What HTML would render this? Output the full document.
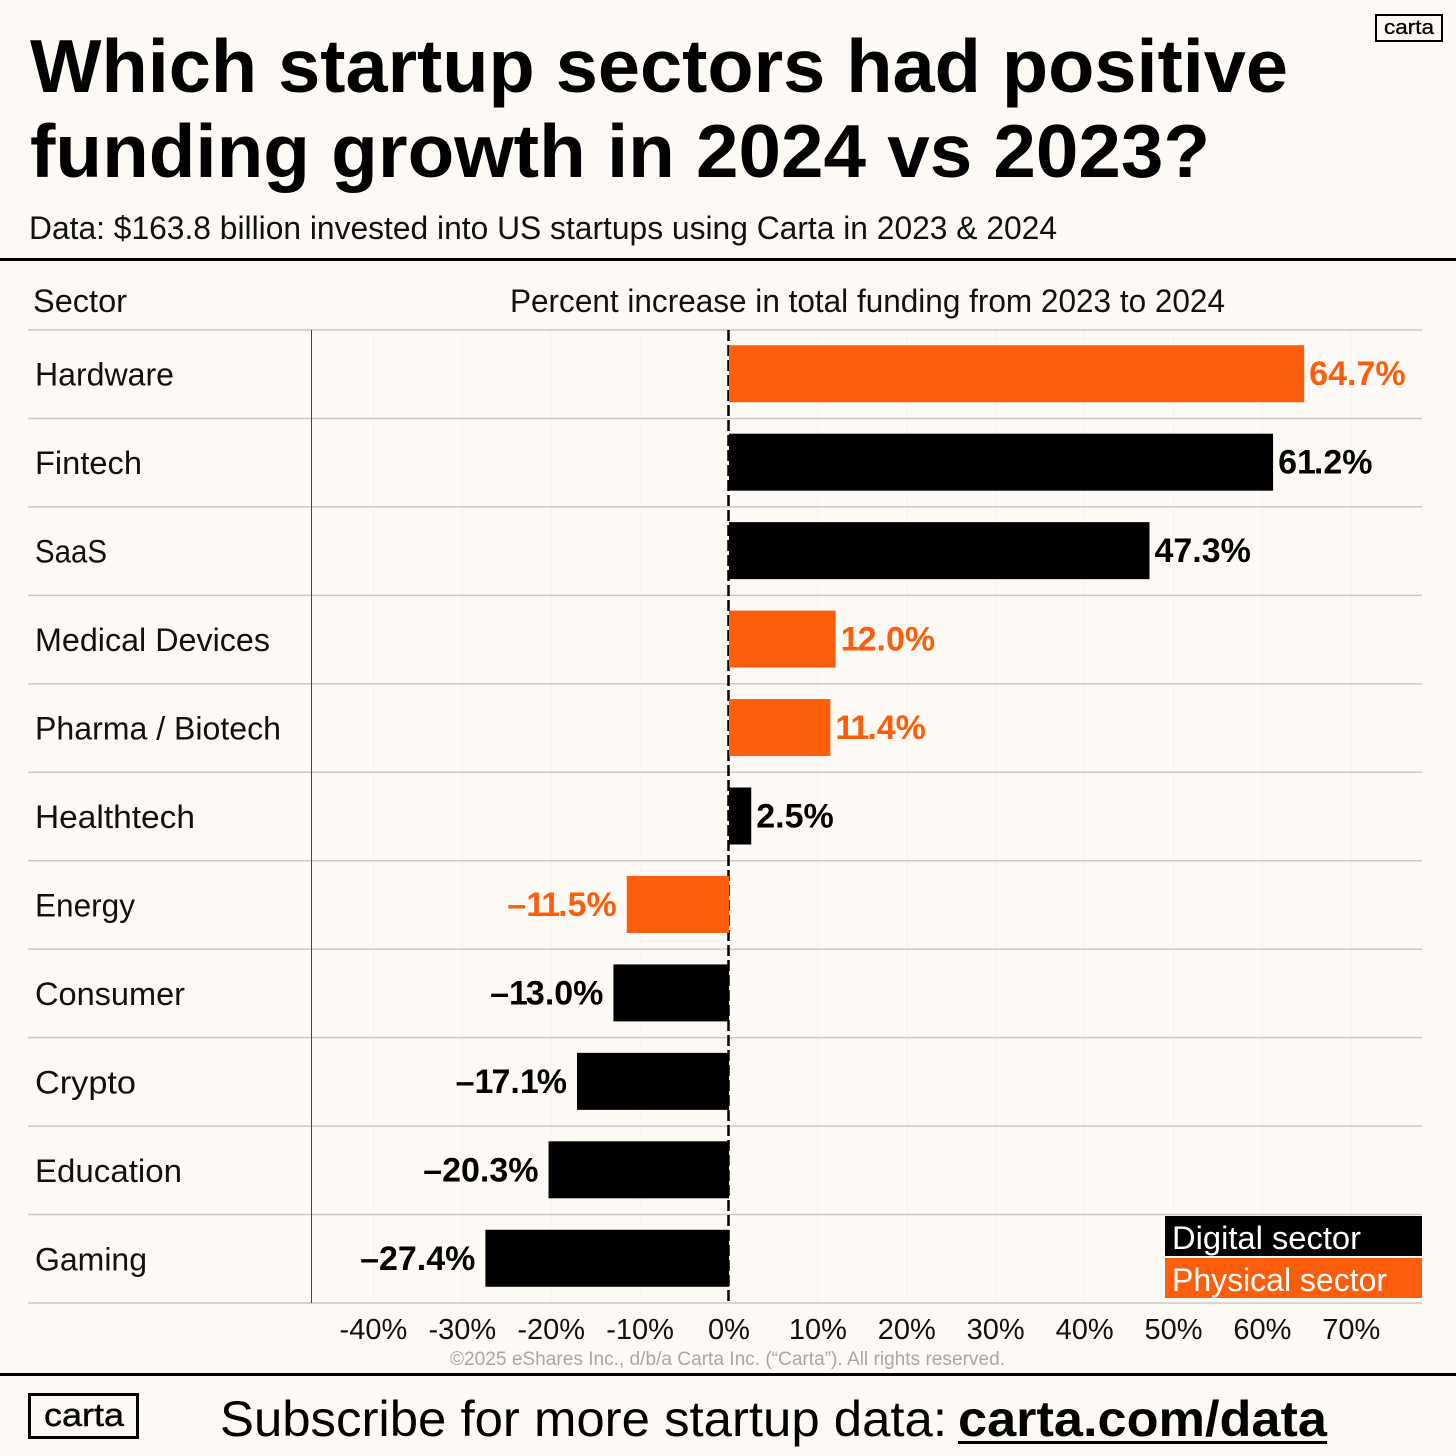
<!DOCTYPE html>
<html lang="en">
<head>
<meta charset="utf-8">
<title>Which startup sectors had positive funding growth in 2024 vs 2023?</title>
<style>
html,body{margin:0;padding:0;background:#fdfaf5;}
body{width:1456px;height:1456px;overflow:hidden;}
svg{display:block;font-family:"Liberation Sans",sans-serif;}
</style>
</head>
<body>
<svg id="chart" xmlns="http://www.w3.org/2000/svg" width="1456" height="1456" viewBox="0 0 1456 1456">
  <rect x="0" y="0" width="1456" height="1456" fill="#fdfaf5"/>
  <text x="30" y="92" font-size="75" font-weight="700" fill="#000" textLength="1258" lengthAdjust="spacingAndGlyphs">Which startup sectors had positive</text>
  <text x="30" y="177" font-size="75" font-weight="700" fill="#000" textLength="1180" lengthAdjust="spacingAndGlyphs">funding growth in 2024 vs 2023?</text>
  <text x="29" y="239" font-size="32" fill="#111" textLength="1028" lengthAdjust="spacingAndGlyphs">Data: $163.8 billion invested into US startups using Carta in 2023 &amp; 2024</text>
  <rect x="1376" y="15" width="66" height="26" fill="none" stroke="#000" stroke-width="2"/>
  <text x="1384" y="34" font-size="20" fill="#000" stroke="#000" stroke-width="0.3" textLength="50" lengthAdjust="spacingAndGlyphs">carta</text>
  <rect x="0" y="258" width="1456" height="3" fill="#000"/>
  <text x="33" y="312" font-size="32" fill="#111" textLength="94" lengthAdjust="spacingAndGlyphs">Sector</text>
  <text x="510" y="312" font-size="32" fill="#111" textLength="715" lengthAdjust="spacingAndGlyphs">Percent increase in total funding from 2023 to 2024</text>
  <g id="grid"></g>
  <g id="rows"></g>
  <line x1="311.5" y1="330" x2="311.5" y2="1303" stroke="#444" stroke-width="1"/>
  <line x1="728.5" y1="330" x2="728.5" y2="1303" stroke="#000" stroke-width="2.5" stroke-dasharray="11 4"/>
  <g id="bars"></g>
  <g id="labels"></g>
  <g id="values"></g>
  <g id="ticks"></g>
  <g>
    <rect x="1165" y="1216" width="257" height="40" fill="#000"/>
    <text x="1172" y="1249" font-size="32" fill="#fff" textLength="189" lengthAdjust="spacingAndGlyphs">Digital sector</text>
    <rect x="1165" y="1258" width="257" height="40" fill="#fc5e0b"/>
    <text x="1172" y="1291" font-size="32" fill="#fff" textLength="215" lengthAdjust="spacingAndGlyphs">Physical sector</text>
  </g>
  <text x="450" y="1365" font-size="19" fill="#a8a8a6" textLength="555" lengthAdjust="spacingAndGlyphs">©2025 eShares Inc., d/b/a Carta Inc. (“Carta”). All rights reserved.</text>
  <rect x="0" y="1373" width="1456" height="3" fill="#000"/>
  <rect x="29.5" y="1394.5" width="108" height="43" fill="none" stroke="#000" stroke-width="3"/>
  <text x="44" y="1426" font-size="32" fill="#000" stroke="#000" stroke-width="0.4" textLength="80" lengthAdjust="spacingAndGlyphs">carta</text>
  <text x="220" y="1436" font-size="50" fill="#000" textLength="727" lengthAdjust="spacingAndGlyphs">Subscribe for more startup data:</text>
  <text x="958" y="1436" font-size="50" font-weight="700" fill="#000" textLength="369" lengthAdjust="spacingAndGlyphs">carta.com/data</text>
  <rect x="958" y="1441" width="369" height="3" fill="#000"/>
</svg>
<script>
const categories = ["Hardware","Fintech","SaaS","Medical Devices","Pharma / Biotech","Healthtech","Energy","Consumer","Crypto","Education","Gaming"];
const growthValues = [64.7,61.2,47.3,12.0,11.4,2.5,-11.5,-13.0,-17.1,-20.3,-27.4];
const sectorTypes = ["physical","digital","digital","physical","physical","digital","physical","digital","digital","digital","digital"];
const tickValues = [-40,-30,-20,-10,0,10,20,30,40,50,60,70];
const tickLabels = ["-40%","-30%","-20%","-10%","0%","10%","20%","30%","40%","50%","60%","70%"];

const NS = "http://www.w3.org/2000/svg";
const colorFor = { physical: "#fc5e0b", digital: "#000000" };
// Rendered label widths, fitted to the reference's typeface.
const labelFit = { "Hardware":139, "Fintech":107, "SaaS":72, "Medical Devices":235, "Pharma / Biotech":246, "Healthtech":160, "Energy":100, "Consumer":150, "Crypto":101, "Education":147, "Gaming":112 };
const plotTop = 330, plotBottom = 1303, zeroX = 729, pxPerPct = 8.89, barH = 57;
const rowH = (plotBottom - plotTop) / categories.length;
const xScale = v => zeroX + v * pxPerPct;
const rowY = i => plotTop + rowH * i;
const rowCenter = i => rowY(i) + rowH / 2;
function make(tag, parent, attrs) {
  const el = document.createElementNS(NS, tag);
  for (const k in attrs) el.setAttribute(k, attrs[k]);
  parent.appendChild(el);
  return el;
}
function formatValue(v) {
  return (v < 0 ? "–" : "") + Math.abs(v).toFixed(1) + "%";
}
const gGrid = document.getElementById("grid");
const gRows = document.getElementById("rows");
const gBars = document.getElementById("bars");
const gLabels = document.getElementById("labels");
const gValues = document.getElementById("values");
const gTicks = document.getElementById("ticks");

tickValues.forEach((t, i) => {
  if (t !== 0) {
    const gl = make("line", gGrid, {x1: xScale(t), x2: xScale(t), y1: plotTop, y2: plotBottom, stroke: "#f8f5ef", "stroke-width": 1.5});
    
    
  }
  const tk = make("text", gTicks, {x: xScale(t), y: 1339, "font-size": 29, "text-anchor": "middle", fill: "#111"});
  tk.textContent = tickLabels[i];
  
  
});

for (let i = 0; i <= categories.length; i++) {
  const ln = make("line", gRows, {x1: 28, x2: 1422, y1: rowY(i), y2: rowY(i), stroke: "#c9c9c5", "stroke-width": 1.5});
  
  
}

categories.forEach((c, i) => {
  const v = growthValues[i];
  const col = colorFor[sectorTypes[i]];
  const x0 = xScale(Math.min(v, 0)), x1 = xScale(Math.max(v, 0));
  const bar = make("rect", gBars, {x: x0, y: rowCenter(i) - barH / 2 - 0.5, width: x1 - x0, height: barH, fill: col});
  
  

  const lab = make("text", gLabels, {x: 35, y: rowCenter(i) + 11.5, "font-size": 32, fill: "#111", textLength: labelFit[c], lengthAdjust: "spacingAndGlyphs"});
  lab.textContent = c;
  
  

  const val = make("text", gValues, {
    x: v >= 0 ? x1 + 5 : x0 - 10,
    y: rowCenter(i) + 11,
    "font-size": 34,
    "font-weight": 700,
    "text-anchor": v >= 0 ? "start" : "end",
    fill: col
  });
  
  
  // The reference typeface has a slightly narrow "1": tighten the advance gently, keeping glyphs separate.
  formatValue(v).split(/(1)/).filter(Boolean).forEach(part => {
    const span = make("tspan", val, part === "1" ? {"letter-spacing": "-2px"} : {});
    span.textContent = part;
  });
});
</script>
</body>
</html>
